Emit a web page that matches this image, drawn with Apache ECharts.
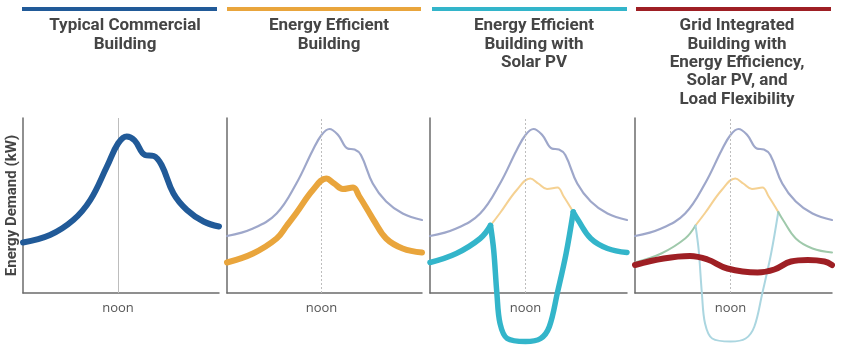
<!DOCTYPE html>
<html>
<head>
<meta charset="utf-8">
<script src="https://cdn.jsdelivr.net/npm/echarts@6/dist/echarts.min.js"></script>
<style>
  html, body { margin: 0; padding: 0; background: #fff; }
  #chart { width: 850px; height: 354px; }
</style>
</head>
<body>
<div id="chart"></div>
<script>
// hours of the day (0..24.75) paired with demand in arbitrary kW units
const typicalLoad = [[0, 10.1], [3.4, 11.6], [6.35, 14.6], [8.5, 18.6], [10.6, 25.3], [12, 29.9], [13.1, 31.3], [14.1, 30.5], [15.4, 27.6], [16.5, 27.4], [17.5, 25.6], [19, 19.9], [20.7, 16.6], [22.8, 14.3], [24.75, 13.3]];
const typicalRef = [[0, 11.4], [3.3, 12.9], [6.3, 15.9], [8.8, 21.9], [10.9, 28.6], [12, 31.6], [13, 32.8], [14.1, 31.6], [15.3, 28.9], [16.2, 28.7], [17, 27.6], [18.5, 21.9], [20.2, 18.3], [22.3, 15.9], [24.75, 14.6]];
const efficientLoad = [[0, 6.1], [3.3, 7.9], [6.3, 10.9], [7.6, 13.5], [8.8, 16.0], [10.9, 20.6], [12.6, 22.9], [13.6, 21.9], [14.7, 20.8], [16.0, 21.1], [16.8, 19.3], [18.0, 16.2], [18.6, 14.6], [20.2, 10.9], [22.3, 8.9], [24.75, 8.1]];
const solarNet = [[7.6, 13.5], [8.0, 8.6], [8.4, 0], [8.8, -6.1], [9.7, -9.1], [12, -9.7], [13.9, -9.1], [15, -6.7], [16, 0], [17.1, 7.9], [18.0, 16.2]];
const flexLoad = [[0, 5.6], [3.6, 6.9], [6.9, 7.4], [9.1, 6.7], [11.6, 4.9], [15.4, 4.1], [17.5, 4.7], [19.6, 6.3], [21.7, 6.6], [23.8, 6.3], [24.75, 5.6]];
const solarStart = 7.6, solarEnd = 18.0;

const titles = ['Typical Commercial\nBuilding', 'Energy Efficient\nBuilding', 'Energy Efficient\nBuilding with\nSolar PV', 'Grid Integrated\nBuilding with\nEnergy Efficiency,\nSolar PV, and\nLoad Flexibility'];
const panelColors = ['#215a98', '#e9a53c', '#33b5ca', '#9e1f24'];

const panels = [
  { left: 23, width: 196, titleX: 120, barX: 22, barW: 195 },
  { left: 227, width: 195, titleX: 324, barX: 227, barW: 194 },
  { left: 430, width: 197, titleX: 529, barX: 432, barW: 195 },
  { left: 635, width: 197, titleX: 732, barX: 636, barW: 195 }
];

const before = efficientLoad.filter(p => p[0] <= solarStart);
const during = efficientLoad.filter(p => p[0] >= solarStart && p[0] <= solarEnd);
const after = efficientLoad.filter(p => p[0] >= solarEnd);

const chart = echarts.init(document.getElementById('chart'));

const line = (idx, data, color, width, z, smooth) => ({
  type: 'line', xAxisIndex: idx, yAxisIndex: idx, data: data,
  smooth: smooth === undefined ? 0.4 : smooth, showSymbol: false, symbol: 'none',
  clip: false, silent: true, z: z,
  lineStyle: { color: color, width: width, cap: 'round', join: 'round' }
});

const noonLine = (idx, type) => ({
  type: 'line', xAxisIndex: idx, yAxisIndex: idx, data: [], z: 1, silent: true,
  markLine: {
    symbol: 'none', silent: true, label: { show: false },
    lineStyle: { color: '#bdbdbd', width: 1, type: type },
    data: [{ xAxis: 12 }]
  }
});

const series = [
  noonLine(0, 'solid'), noonLine(1, [2, 2]), noonLine(2, [2, 2]), noonLine(3, [2, 2]),
  line(0, typicalLoad, '#215a98', 6, 5),

  line(1, typicalRef, '#9ea7ca', 2.2, 3),
  line(1, efficientLoad, '#e9a53c', 6, 5),

  line(2, typicalRef, '#9ea7ca', 2.2, 3),
  line(2, during, '#f5d192', 2, 3),
  line(2, before, '#33b5ca', 5.5, 5),
  line(2, solarNet, '#33b5ca', 5.5, 5, 0.35),
  line(2, after, '#33b5ca', 5.5, 5),

  line(3, typicalRef, '#9ea7ca', 2.2, 3),
  line(3, during, '#f5d192', 2, 3),
  line(3, before, '#9fc9ab', 2, 3),
  line(3, solarNet, '#abd6e0', 2, 3, 0.35),
  line(3, after, '#9fc9ab', 2, 3),
  line(3, flexLoad, '#9e1f24', 6, 6)
];

chart.setOption({
  backgroundColor: '#fff',
  animation: false,
  title: titles.map((t, i) => ({
    text: t, left: panels[i].titleX, top: 12, textAlign: 'center',
    textStyle: { fontFamily: 'Roboto', fontWeight: 'bold', fontSize: 17, lineHeight: 18.3, color: '#454545' }
  })),
  graphic: panels.map((p, i) => ({
    type: 'rect', shape: { x: p.barX, y: 7, width: p.barW, height: 4 },
    style: { fill: panelColors[i] }, silent: true
  })),
  grid: panels.map(p => ({ left: p.left, width: p.width, top: 118, height: 175 })),
  xAxis: panels.map((p, i) => ({
    type: 'value', gridIndex: i, min: 0, max: 24.75, interval: 12,
    axisLine: { lineStyle: { color: '#6b6b6b', width: 1.5 } },
    axisTick: { show: false },
    splitLine: { show: false },
    axisLabel: {
      margin: 9, color: '#555', fontSize: 13, fontFamily: 'Open Sans',
      formatter: v => (v === 12 ? 'noon' : '')
    }
  })),
  yAxis: panels.map((p, i) => ({
    type: 'value', gridIndex: i, min: 0, max: 35,
    axisLine: { show: true, lineStyle: { color: '#6b6b6b', width: 1.5 } },
    axisTick: { show: false },
    axisLabel: { show: false },
    splitLine: { show: false },
    name: i === 0 ? 'Energy Demand (kW)' : '',
    nameLocation: 'middle', nameRotate: 90, nameGap: 3,
    nameTextStyle: { fontFamily: 'Roboto', fontWeight: 'bold', fontSize: 15, color: '#454545' }
  })),
  series: series
});
</script>
</body>
</html>
